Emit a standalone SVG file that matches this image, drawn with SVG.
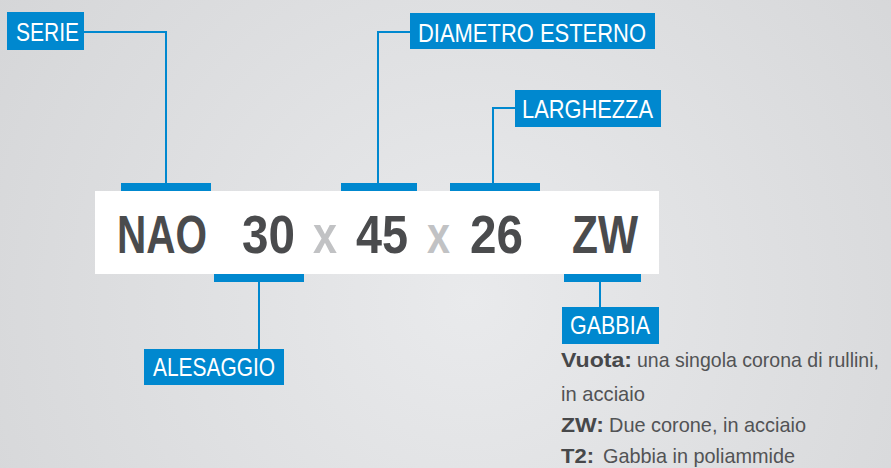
<svg xmlns="http://www.w3.org/2000/svg" width="891" height="468" viewBox="0 0 891 468">
<defs>
<radialGradient id="bg" cx="470" cy="300" r="620" gradientUnits="userSpaceOnUse">
<stop offset="0" stop-color="#e9eaec"/>
<stop offset="1" stop-color="#d3d4d6"/>
</radialGradient>
<style>
.lbl{fill:#0088cf}
.lt{font-family:"Liberation Sans Narrow","Liberation Sans",Arial,sans-serif;font-size:26px;fill:#ffffff}
.big{font-family:"Liberation Sans Narrow","Liberation Sans",Arial,sans-serif;font-size:54px;font-weight:bold;fill:#4a4b4d}
.big.x{fill:#c1c2c4}
.con{fill:none;stroke:#0088cf;stroke-width:2}
.bar{fill:#0088cf}
.d{font-family:"Liberation Sans Narrow","Liberation Sans",Arial,sans-serif;font-size:21px;fill:#525355}
.d .b{font-weight:bold;fill:#47484a}
</style>
</defs>
<rect x="0" y="0" width="891" height="468" fill="url(#bg)"/>
<g id="connectors">
<path class="con" d="M84,32 H166 V184"/>
<path class="con" d="M410,32 H378 V184"/>
<path class="con" d="M515,108 H493 V184"/>
<path class="con" d="M259,281 V349"/>
<path class="con" d="M600,281 V307"/>
<rect class="bar" x="121" y="183" width="90" height="8"/>
<rect class="bar" x="341" y="183" width="76" height="8"/>
<rect class="bar" x="450" y="183" width="90" height="8"/>
<rect class="bar" x="214" y="274" width="90" height="8"/>
<rect class="bar" x="564" y="274" width="77" height="8"/>
</g>
<g id="code">
<rect x="95" y="191" width="564" height="83" fill="#ffffff"/>
<text class="big" x="117" y="253" textLength="90" lengthAdjust="spacingAndGlyphs">NAO</text>
<text class="big" x="242" y="253" textLength="53" lengthAdjust="spacingAndGlyphs">30</text>
<text class="big x" x="313" y="253" textLength="24" lengthAdjust="spacingAndGlyphs">x</text>
<text class="big" x="356" y="253" textLength="52" lengthAdjust="spacingAndGlyphs">45</text>
<text class="big x" x="427" y="253" textLength="23" lengthAdjust="spacingAndGlyphs">x</text>
<text class="big" x="470" y="253" textLength="53" lengthAdjust="spacingAndGlyphs">26</text>
<text class="big" x="572" y="253" textLength="66" lengthAdjust="spacingAndGlyphs">ZW</text>
</g>
<g id="serie">
<rect class="lbl" x="7" y="12" width="77" height="38"/>
<text class="lt" x="16" y="41" textLength="63" lengthAdjust="spacingAndGlyphs">SERIE</text>
</g>
<g id="diametro">
<rect class="lbl" x="410" y="13" width="245" height="36"/>
<text class="lt" x="418" y="42" textLength="228" lengthAdjust="spacingAndGlyphs">DIAMETRO ESTERNO</text>
</g>
<g id="larghezza">
<rect class="lbl" x="515" y="90" width="146" height="37"/>
<text class="lt" x="522" y="118" textLength="131" lengthAdjust="spacingAndGlyphs">LARGHEZZA</text>
</g>
<g id="alesaggio">
<rect class="lbl" x="144" y="349" width="140" height="36"/>
<text class="lt" x="153" y="376" textLength="122" lengthAdjust="spacingAndGlyphs">ALESAGGIO</text>
</g>
<g id="gabbia">
<rect class="lbl" x="562" y="307" width="97" height="37"/>
<text class="lt" x="570" y="334" textLength="80" lengthAdjust="spacingAndGlyphs">GABBIA</text>
<text class="d" x="561" y="367"><tspan class="b" textLength="71" lengthAdjust="spacingAndGlyphs">Vuota:</tspan></text>
<text class="d" transform="translate(637,367) scale(0.93,1)" x="0" y="0">una singola corona di rullini,</text>
<text class="d"><tspan x="561" y="401" textLength="84" lengthAdjust="spacingAndGlyphs">in acciaio</tspan></text>
<text class="d"><tspan class="b" x="561" y="432" textLength="43" lengthAdjust="spacingAndGlyphs">ZW:</tspan><tspan x="609" y="432" textLength="197" lengthAdjust="spacingAndGlyphs">Due corone, in acciaio</tspan></text>
<text class="d"><tspan class="b" x="561" y="463" textLength="33" lengthAdjust="spacingAndGlyphs">T2:</tspan><tspan x="603" y="463" textLength="192" lengthAdjust="spacingAndGlyphs">Gabbia in poliammide</tspan></text>
</g>
</svg>
